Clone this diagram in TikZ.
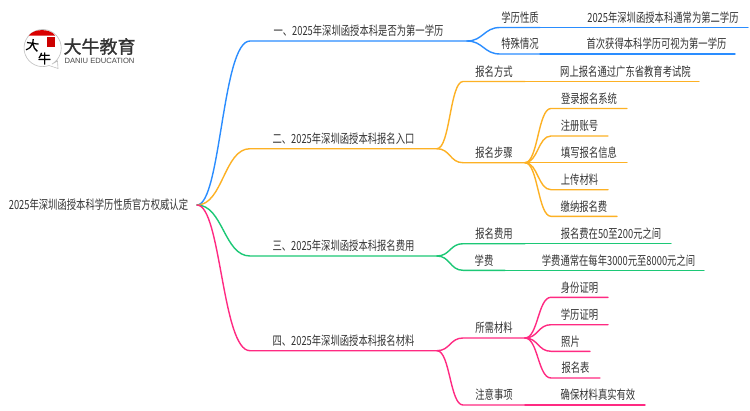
\documentclass[tikz,border=0pt]{standalone}
\usepackage{fontspec}
\setmainfont{Noto Sans CJK SC}[FakeStretch=0.74]
\newfontfamily\logofont{Noto Sans CJK SC}[FakeBold=1.2]
\newfontfamily\logolat{Liberation Sans}
\definecolor{cblue}{HTML}{2A8DFF}
\definecolor{corange}{HTML}{FDB124}
\definecolor{cgreen}{HTML}{1CC876}
\definecolor{cpink}{HTML}{FF2A82}
\definecolor{ctext}{HTML}{333333}
\tikzset{
  topic/.style={anchor=south west,inner xsep=0pt,inner ysep=3.2pt,outer sep=0pt,
    text height=10pt,text depth=2pt,font=\fontsize{12.6}{13}\selectfont,text=ctext,align=center},
  wire/.style={line width=1.4pt,line cap=round,line join=round},
  logotext/.style={inner sep=0pt,outer sep=0pt}
}
% #1 parent, #2 child, #3 control reach
\newcommand\fork[3]{\draw[wire] (#1.south east) .. controls +(#3,0) and +(-#3,0) .. (#2.south west) -- (#2.south east);}
\newcommand\tail[2]{\draw[wire] (#1.south east) -- (#2.south west) -- (#2.south east);}
\newcommand\tnode[5]{\node[topic,minimum width=#4] (#1) at (#2,#3) {#5};}
\begin{document}
\begin{tikzpicture}[x=1pt,y=-1pt]
\useasboundingbox (0,0) rectangle (750,410);
\fill[white] (0,0) rectangle (750,410);
% logo
\filldraw[draw=black!25,fill=white,line width=.6pt] (57.5,61) -- (58,68.5) -- (49,65.5) arc[start angle=70,end angle=420,radius=18.6] -- cycle;
\fill[red!85!black] (28.8,35.5) .. controls (34,28.3) and (50,28.3) .. (55.2,35.5) -- cycle;
\fill[red!80!black] (46.5,37) rectangle (55,47);
\node[logotext,font=\logofont\fontsize{13}{13}\selectfont,text=black,rotate=-8] (logoa) at (32.5,45) {大};
\node[logotext,font=\logofont\fontsize{13}{13}\selectfont,text=black] (logob) at (44.5,58.5) {牛};
\node[logotext,font=\logofont\fontsize{18}{18}\selectfont,text=ctext] (logoc) at (99.5,46.5) {大牛教育};
\node[logotext,font=\logolat\fontsize{7.6}{8}\selectfont,text=ctext!90] (logod) at (99.5,60.5) {DANIU EDUCATION};
% nodes
\node[topic,anchor=west,minimum width=197pt] (root) at (0,205) {2025年深圳函授本科学历性质官方权威认定};
\tnode{ba}{250}{41}{217pt}{一、2025年深圳函授本科是否为第一学历}
\tnode{aa}{500}{27.5}{40pt}{学历性质}
\tnode{aal}{578}{27.5}{170pt}{2025年深圳函授本科通常为第二学历}
\tnode{ab}{500}{54}{40pt}{特殊情况}
\tnode{abl}{578}{54}{157pt}{首次获得本科学历可视为第一学历}
\tnode{bb}{250}{148.7}{187pt}{二、2025年深圳函授本科报名入口}
\tnode{ba1}{463}{81.5}{62pt}{报名方式}
\tnode{ba1l}{552}{81.5}{147pt}{网上报名通过广东省教育考试院}
\tnode{ba2}{463}{162.7}{62pt}{报名步骤}
\tnode{s1}{551}{108.5}{76pt}{登录报名系统}
\tnode{s2}{551}{136}{57pt}{注册账号}
\tnode{s3}{551}{162.7}{76pt}{填写报名信息}
\tnode{s4}{551}{189.7}{57pt}{上传材料}
\tnode{s5}{551}{216.3}{66pt}{缴纳报名费}
\tnode{bc}{250}{256}{187pt}{三、2025年深圳函授本科报名费用}
\tnode{c1}{463}{243.7}{62pt}{报名费用}
\tnode{c1l}{551}{243.7}{120pt}{报名费在50至200元之间}
\tnode{c2}{463}{270.3}{42pt}{学费}
\tnode{c2l}{533}{270.3}{171pt}{学费通常在每年3000元至8000元之间}
\tnode{bd}{250}{350.7}{187pt}{四、2025年深圳函授本科报名材料}
\tnode{d1}{463}{338}{62pt}{所需材料}
\tnode{m1}{551}{297.3}{57pt}{身份证明}
\tnode{m2}{551}{324.7}{57pt}{学历证明}
\tnode{m3}{551}{351.3}{39pt}{照片}
\tnode{m4}{551}{378}{49pt}{报名表}
\tnode{d2}{463}{405}{62pt}{注意事项}
\tnode{d2l}{551}{405}{94pt}{确保材料真实有效}
% connectors
\begin{scope}[color=cblue]
\draw[wire] (root.east) .. controls +(24,0) and +(-28,0) .. (ba.south west) -- (ba.south east);
\fork{ba}{aa}{16}\fork{ba}{ab}{16}
\tail{aa}{aal}\tail{ab}{abl}
\end{scope}
\begin{scope}[color=corange]
\draw[wire] (root.east) .. controls +(26,0) and +(-26,0) .. (bb.south west) -- (bb.south east);
\fork{bb}{ba1}{13}\fork{bb}{ba2}{13}
\tail{ba1}{ba1l}
\foreach \n in {s1,s2,s3,s4,s5}{\fork{ba2}{\n}{13}}
\end{scope}
\begin{scope}[color=cgreen]
\draw[wire] (root.east) .. controls +(26,0) and +(-26,0) .. (bc.south west) -- (bc.south east);
\fork{bc}{c1}{13}\fork{bc}{c2}{13}
\tail{c1}{c1l}\tail{c2}{c2l}
\end{scope}
\begin{scope}[color=cpink]
\draw[wire] (root.east) .. controls +(24,0) and +(-28,0) .. (bd.south west) -- (bd.south east);
\fork{bd}{d1}{13}\fork{bd}{d2}{13}
\foreach \n in {m1,m2,m3,m4}{\fork{d1}{\n}{13}}
\tail{d2}{d2l}
\end{scope}
\end{tikzpicture}
\end{document}
